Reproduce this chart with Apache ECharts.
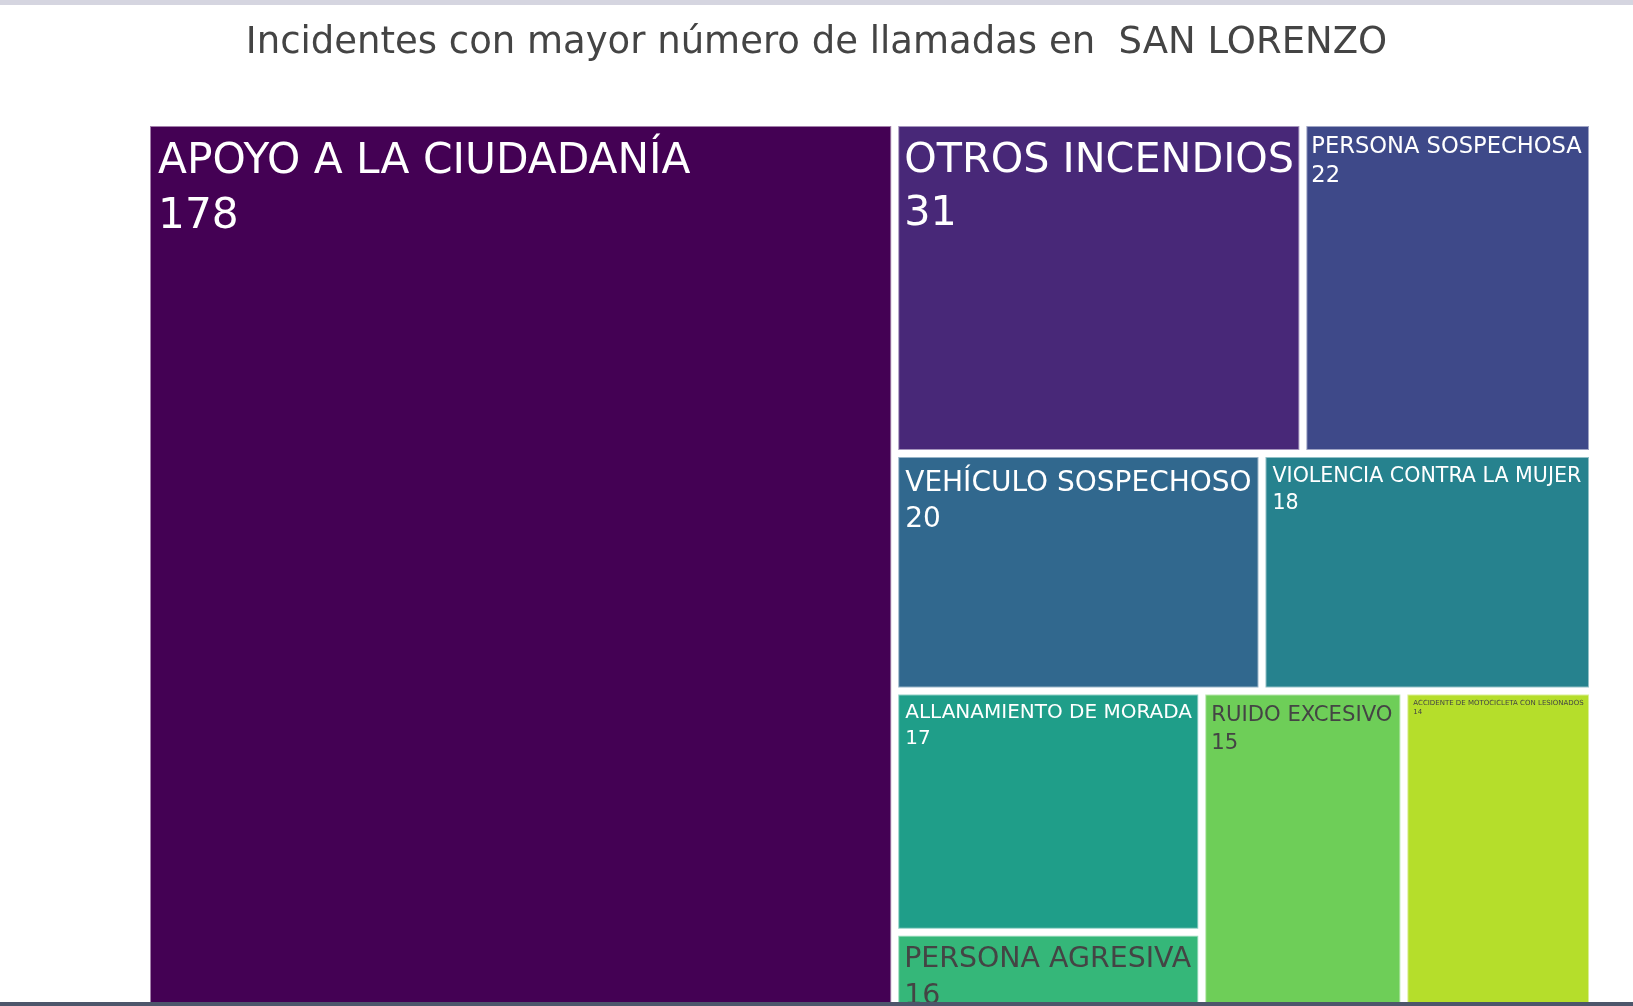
<!DOCTYPE html>
<html>
<head>
<meta charset="utf-8">
<title>Incidentes SAN LORENZO</title>
<script src="https://cdn.jsdelivr.net/npm/echarts@6/dist/echarts.min.js"></script>
<style>
  html, body { margin: 0; padding: 0; background: #fff; }
  #chart { width: 1633px; height: 1006px; }
</style>
</head>
<body>
<div id="chart"></div>
<script>
// datos: top 10 incidentes (el último queda cortado abajo en la captura)
const incidentes = [
  'APOYO A LA CIUDADANÍA',
  'OTROS INCENDIOS',
  'PERSONA SOSPECHOSA',
  'VEHÍCULO SOSPECHOSO',
  'VIOLENCIA CONTRA LA MUJER',
  'ALLANAMIENTO DE MORADA',
  'PERSONA AGRESIVA',
  'RUIDO EXCESIVO',
  'ACCIDENTE DE MOTOCICLETA CON LESIONADOS',
  'OTRO INCIDENTE'
]
const llamadas = [178, 31, 22, 20, 18, 17, 16, 15, 14, 13]

// estilos
const viridis = ['#440154', '#482878', '#3e4989', '#31688e', '#26828e',
  '#1f9e89', '#35b779', '#6ece58', '#b5de2b', '#fde725']
const labelSizes = [42.3, 41.3, 22.6, 28, 20.6, 20, 28.4, 21.2, 7, 12]
const labelPads = [[8, 7], [7, 5], [5, 4], [7.5, 6], [5, 6], [4.6, 6], [4.5, 5], [6.3, 5], [3, 5], [5, 5]]

const chart = echarts.init(document.getElementById('chart'))

const data = incidentes.map((name, i) => ({
  name,
  value: llamadas[i],
  itemStyle: {
    color: viridis[i],
    borderColor: echarts.color.lerp(0.5, [viridis[i], '#ffffff'])
  },
  label: {
    fontSize: labelSizes[i],
    lineHeight: labelSizes[i] * 1.3,
    padding: [labelPads[i][0], labelPads[i][1], 0, labelPads[i][1]],
    color: i < 6 ? '#ffffff' : '#444444'
  }
}))

const option = {
  backgroundColor: '#ffffff',
  animation: false,
  title: {
    text: 'Incidentes con mayor número de llamadas en  SAN LORENZO',
    left: 'center',
    top: 20,
    textStyle: {
      fontFamily: 'DejaVu Sans',
      fontSize: 37,
      fontWeight: 'normal',
      color: '#444444'
    }
  },
  graphic: [
    { type: 'rect', z: 100, shape: { x: 0, y: 0, width: 1633, height: 5 }, style: { fill: '#d5d5e0' } },
    { type: 'rect', z: 100, shape: { x: 0, y: 1002, width: 1633, height: 4 }, style: { fill: '#4d566b' } }
  ],
  series: [{
    type: 'treemap',
    left: 150,
    top: 126,
    width: 1439,
    height: 1030,
    squareRatio: 1,
    sort: 'desc',
    roam: false,
    nodeClick: false,
    breadcrumb: { show: false },
    label: {
      show: true,
      position: 'insideTopLeft',
      fontFamily: 'DejaVu Sans',
      overflow: 'none',
      formatter: '{b}\n{c}'
    },
    upperLabel: { show: false },
    levels: [
      { itemStyle: { borderWidth: 0, gapWidth: 7, borderColor: '#ffffff' } },
      { itemStyle: { borderWidth: 1, gapWidth: 0 } }
    ],
    data
  }]
}

chart.setOption(option)
window.addEventListener('resize', () => chart.resize())
</script>
</body>
</html>
